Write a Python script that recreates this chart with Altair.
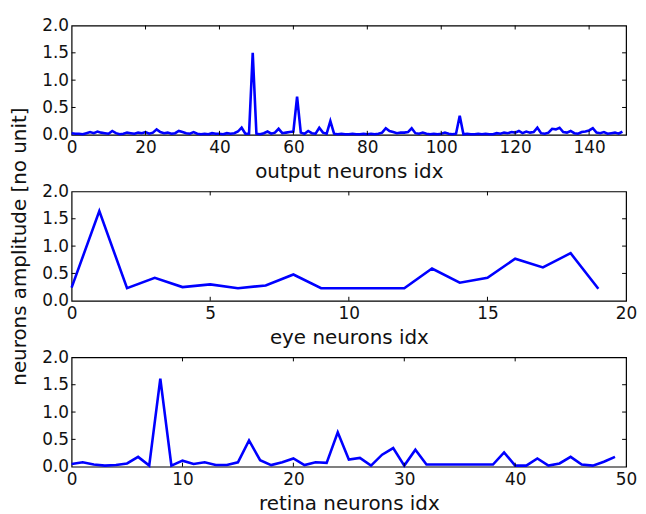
import altair as alt
import pandas as pd

# ---- data ----
output_vals = [
    0.03, 0.02, 0.02, 0.01, 0.03, 0.05, 0.03, 0.06, 0.04, 0.03,
    0.02, 0.07, 0.03, 0.01, 0.02, 0.04, 0.03, 0.02, 0.04, 0.03,
    0.05, 0.02, 0.04, 0.10, 0.05, 0.03, 0.04, 0.02, 0.03, 0.07,
    0.05, 0.03, 0.02, 0.05, 0.02, 0.01, 0.02, 0.01, 0.03, 0.02,
    0.02, 0.01, 0.03, 0.02, 0.03, 0.06, 0.13, 0.02, 0.02, 1.50,
    0.02, 0.01, 0.03, 0.06, 0.02, 0.04, 0.11, 0.03, 0.04, 0.05,
    0.06, 0.70, 0.04, 0.02, 0.07, 0.03, 0.02, 0.13, 0.04, 0.02,
    0.25, 0.02, 0.01, 0.02, 0.01, 0.01, 0.02, 0.01, 0.01, 0.02,
    0.01, 0.02, 0.01, 0.02, 0.04, 0.12, 0.07, 0.05, 0.03, 0.04,
    0.04, 0.05, 0.12, 0.03, 0.02, 0.04, 0.02, 0.01, 0.02, 0.01,
    0.02, 0.04, 0.02, 0.01, 0.02, 0.35, 0.01, 0.02, 0.01, 0.01,
    0.02, 0.01, 0.02, 0.01, 0.01, 0.03, 0.02, 0.04, 0.03, 0.05,
    0.04, 0.07, 0.03, 0.06, 0.04, 0.05, 0.13, 0.03, 0.02, 0.04,
    0.11, 0.10, 0.13, 0.05, 0.04, 0.07, 0.03, 0.02, 0.05, 0.06,
    0.08, 0.12, 0.04, 0.03, 0.05, 0.02, 0.03, 0.04, 0.02, 0.06,
]
eye_vals = [
    0.24, 1.64, 0.23, 0.42, 0.25, 0.30, 0.23, 0.28, 0.48, 0.23,
    0.23, 0.23, 0.23, 0.59, 0.33, 0.42, 0.77, 0.61, 0.87, 0.22,
]
retina_vals = [
    0.05, 0.08, 0.04, 0.02, 0.03, 0.06, 0.18, 0.02, 1.61, 0.02,
    0.11, 0.05, 0.08, 0.03, 0.03, 0.08, 0.48, 0.12, 0.03, 0.08,
    0.15, 0.03, 0.08, 0.07, 0.63, 0.13, 0.16, 0.02, 0.22, 0.34,
    0.02, 0.31, 0.04, 0.04, 0.04, 0.04, 0.04, 0.04, 0.04, 0.26,
    0.02, 0.02, 0.15, 0.02, 0.06, 0.18, 0.04, 0.02, 0.09, 0.18,
]
output_ticks = [0, 20, 40, 60, 80, 100, 120, 140]
eye_ticks = [0, 5, 10, 15, 20]
retina_ticks = [0, 10, 20, 30, 40, 50]
y_ticks = [0.0, 0.5, 1.0, 1.5, 2.0]

W, H = 558, 110
TICK = 4
FONT = "DejaVu Sans"


def panel(vals, xmax, xticks, xtitle, ytitle):
    df = pd.DataFrame({"idx": list(range(len(vals))), "amp": vals})
    xs = alt.Scale(domain=[0, xmax], nice=False, zero=False)
    ys = alt.Scale(domain=[0, 2], nice=False)
    xa = alt.Axis(values=xticks, title=xtitle, format="d",
                  labelFlush=False, labelOverlap=False,
                  ticks=False, domain=False, grid=False,
                  labelPadding=5, titlePadding=6)
    ya = alt.Axis(values=y_ticks, title=ytitle, format=".1f",
                  labelFlush=False, labelOverlap=False,
                  ticks=False, domain=False, grid=False,
                  labelPadding=3, titlePadding=12)
    line = alt.Chart(df).mark_line(color="#0000ff", strokeWidth=2.6).encode(
        x=alt.X("idx:Q", scale=xs, axis=xa),
        y=alt.Y("amp:Q", scale=ys, axis=ya),
    )
    inner_x = pd.DataFrame({"t": [t for t in xticks if 0 < t < xmax]})
    inner_y = pd.DataFrame({"v": [v for v in y_ticks if 0 < v < 2]})
    bottom = alt.Chart(inner_x).mark_rule(color="black").encode(
        x=alt.X("t:Q", scale=xs, axis=xa), y=alt.value(H), y2=alt.value(H - TICK))
    top = alt.Chart(inner_x).mark_rule(color="black").encode(
        x=alt.X("t:Q", scale=xs, axis=xa), y=alt.value(0), y2=alt.value(TICK))
    left = alt.Chart(inner_y).mark_rule(color="black").encode(
        y=alt.Y("v:Q", scale=ys, axis=ya), x=alt.value(0), x2=alt.value(TICK))
    right = alt.Chart(inner_y).mark_rule(color="black").encode(
        y=alt.Y("v:Q", scale=ys, axis=ya), x=alt.value(W), x2=alt.value(W - TICK))
    return alt.layer(line, bottom, top, left, right).properties(width=W, height=H)


p1 = panel(output_vals, 150, output_ticks, "output neurons idx", " ")
p2 = panel(eye_vals, 20, eye_ticks, "eye neurons idx", "neurons amplitude [no unit]")
p3 = panel(retina_vals, 50, retina_ticks, "retina neurons idx", " ")

chart = alt.vconcat(p1, p2, p3, spacing=57, bounds="flush").properties(
    padding={"left": 1, "top": 6, "right": 0, "bottom": 0}
).configure_view(
    stroke="black", strokeWidth=1.2
).configure_axis(
    labelFont=FONT, labelFontSize=17, labelColor="#111",
    titleFont=FONT, titleFontSize=20, titleFontWeight="normal", titleColor="#111",
)

chart.save("out.html", embed_options={"renderer": "svg", "actions": False})
